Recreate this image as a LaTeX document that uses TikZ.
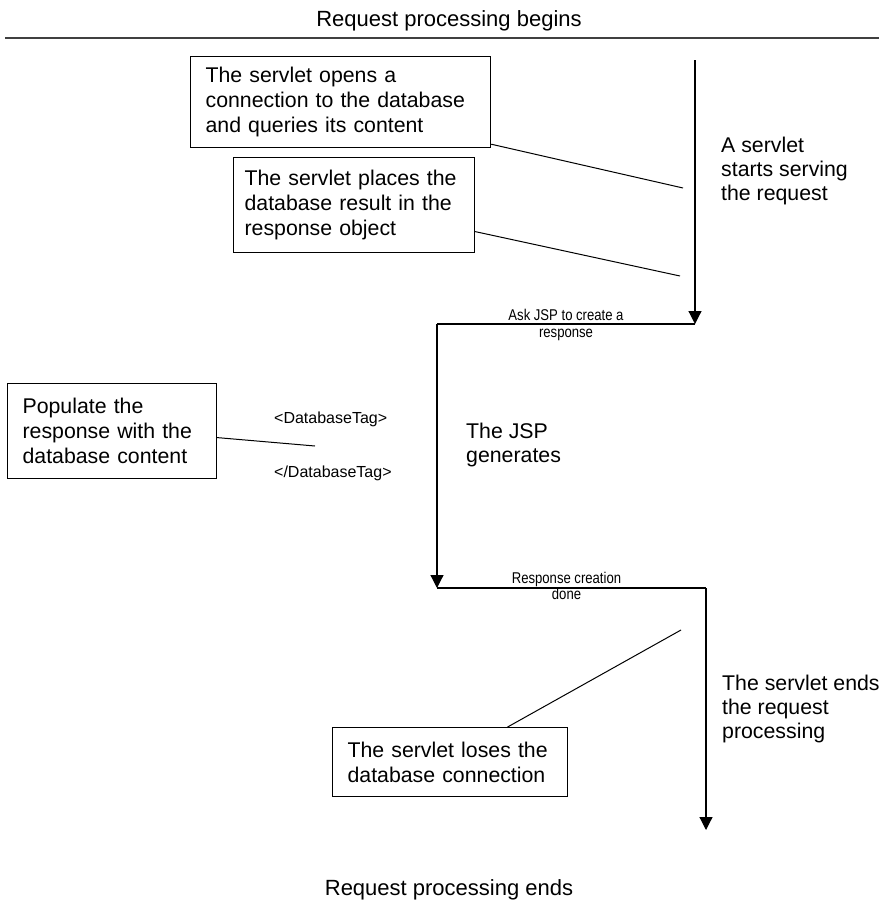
\documentclass[tikz,border=0pt]{standalone}
\usepackage{fontspec}
\setmainfont{Liberation Sans}
\newfontfamily\condfont[FakeStretch=0.84]{Liberation Sans}
\usetikzlibrary{arrows.meta,positioning}
\tikzset{reqpanel/.style={
  x=1pt, y=-1pt,
  font=\fontsize{21.3}{25}\selectfont,
  actbox/.style={draw, line width=1.2pt, anchor=north west, align=left, inner xsep=15pt, inner ysep=0pt},
  flow/.style={-{Triangle[width=13pt,length=13pt]}, line width=1.2pt},
  wire/.style={line width=1.2pt},
  lead/.style={line width=1pt},
  phase/.style={anchor=north west, align=left, inner sep=0pt, font=\fontsize{21.3}{24}\selectfont},
  headline/.style={anchor=base, inner sep=0pt, font=\fontsize{22}{26}\selectfont},
}}

\begin{document}
\begin{tikzpicture}[reqpanel,
  seglab/.style={midway, anchor=center, align=center, inner sep=0pt, font=\condfont\fontsize{15.6}{16.5}\selectfont},
  tag/.style={anchor=base west, inner sep=0pt, font=\fontsize{16}{18}\selectfont},
  rule/.style={line width=2pt, black!75},
]
\useasboundingbox (0,0) rectangle (879,905);

% ---- start and end of the request ----
\node[headline] (begins) at (449,26) {Request processing begins};
\coordinate (ruleL) at (5,38);
\coordinate (ruleR) at (879,38);
\draw[rule] (ruleL) -- (ruleR);
\node[headline] (ends) at (449,895) {Request processing ends};

% ---- the servlet / JSP timeline ----
\coordinate (srvTop) at (695,60);
\coordinate (askR)   at (695,324);
\coordinate (askL)   at (437,324);
\coordinate (doneL)  at (437,588);
\coordinate (doneR)  at (706,588);
\coordinate (srvEnd) at (706,830);

\draw[flow] (srvTop) -- (askR);
\draw[wire] (askR) -- node[seglab, yshift=-1pt] {Ask JSP to create a\\response} (askL);
\draw[flow] (askL) -- (doneL);
\draw[wire] (doneL) -- node[seglab, yshift=2pt, xshift=-5pt] {Response creation\\done} (doneR);
\draw[flow] (doneR) -- (srvEnd);

% ---- phase texts ----
\node[phase] (serve) at (721,136.5) {A servlet\\starts serving\\the request};
\node[phase] (jsp)   at (466,422.5) {The JSP\\generates};
\node[phase] (finish) at (722,674.5) {The servlet ends\\the request\\processing};

% ---- activity boxes ----
\node[actbox, text width=270pt, minimum height=91pt] (open) at (190,56)
  {The servlet opens a\\connection to the database\\and queries its content};
\node[actbox, inner xsep=11pt, text width=219pt, minimum height=95pt] (place) at (233,157)
  {The servlet places the\\database result in the\\response object};
\node[actbox, text width=179pt, minimum height=95pt] (fill) at (7,383)
  {Populate the\\response with the\\database content};
\node[actbox, text width=205pt, minimum height=69pt] (lose) at (332,727)
  {The servlet loses the\\database connection};

% ---- JSP tags ----
\node[tag] (tagOpen)  at (274,423) {<DatabaseTag>};
\node[tag] (tagClose) at (274,477) {</DatabaseTag>};

% ---- leader lines to the timeline ----
\coordinate (openTip)  at (683,188);
\coordinate (placeTip) at (680,276);
\coordinate (fillTip)  at (315,446);
\coordinate (loseTip)  at (681,630);
\draw[lead] ([yshift=4pt]open.south east) -- (openTip);
\draw[lead] ([yshift=-26.5pt]place.east) -- (placeTip);
\draw[lead] ([yshift=-6.5pt]fill.east) -- (fillTip);
\draw[lead] ([xshift=57.5pt]lose.north) -- (loseTip);

\end{tikzpicture}
\end{document}
